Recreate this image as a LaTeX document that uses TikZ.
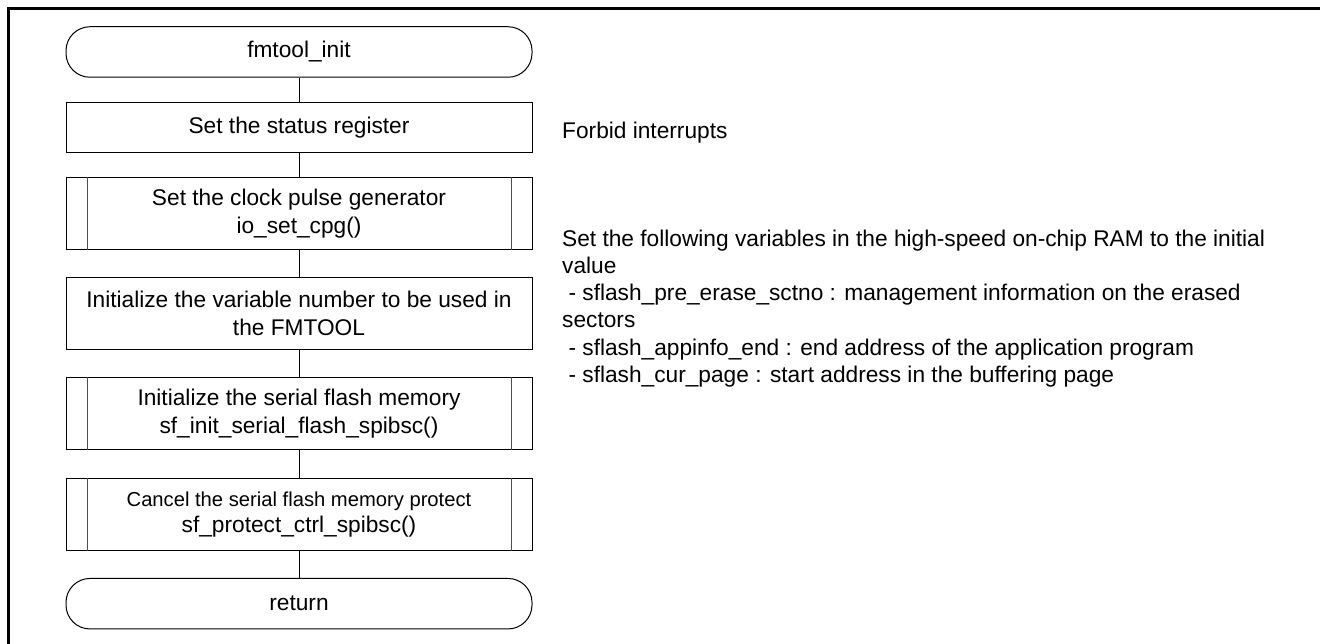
\documentclass[tikz,border=0pt]{standalone}
\usepackage{fontspec}
\setmainfont{Liberation Sans}
\newcommand{\flowfont}{\fontsize{22.7}{28}\selectfont}
\newcommand{\smallflowfont}{\fontsize{20.2}{25.7}\selectfont}
\newcommand{\notefont}{\fontsize{22.7}{27.3}\selectfont}
\begin{document}
\begin{tikzpicture}[x=1pt,y=-1pt,
  box/.style={draw, line width=1pt, minimum width=466pt, inner sep=0pt,
    align=center, font=\flowfont},
  terminal/.style={box, rounded corners=24pt, minimum height=50.5pt},
  procbox/.style={box, minimum height=50pt},
  subproc/.style={box, minimum height=72pt},
  sideline/.style={line width=1pt, black!70},
  link/.style={line width=1pt},
  note/.style={inner sep=0pt, align=left, font=\notefont},
  frameline/.style={line width=2.2pt}]
  % page extent
  \useasboundingbox (0,0) rectangle (1320,644);
  % outer frame (left and top edges)
  \draw[frameline] (8.5,650) -- (8.5,8.5) -- (1330,8.5);

  % flowchart
  \node[terminal] (start) at (299,52) {fmtool\_init};
  \node[procbox]  (b1) at (299,127.7) {Set the status register};
  \node[subproc]  (b2) at (299,213.3) {Set the clock pulse generator\\io\_set\_cpg()};
  \node[subproc]  (b3) at (299,313.3) {Initialize the variable number to be used in\\the FMTOOL};
  \node[subproc]  (b4) at (299,413.7) {Initialize the serial flash memory\\sf\_init\_serial\_flash\_spibsc()};
  \node[subproc, font=\smallflowfont] (b5) at (299,514.3) {Cancel the serial flash memory protect\\{\flowfont sf\_protect\_ctrl\_spibsc()}};
  \node[terminal] (ret) at (299,603.7) {return};

  % vertical bars of the predefined-process boxes
  \foreach \n in {b2,b4,b5} {
    \draw[sideline] ([xshift=21.5pt]\n.north west) -- ([xshift=21.5pt]\n.south west);
    \draw[sideline] ([xshift=-21.5pt]\n.north east) -- ([xshift=-21.5pt]\n.south east);
  }

  % connectors
  \draw[link] (start) -- (b1);
  \draw[link] (b1) -- (b2);
  \draw[link] (b2) -- (b3);
  \draw[link] (b3) -- (b4);
  \draw[link] (b4) -- (b5);
  \draw[link] (b5) -- (ret);

  % remarks (base anchor of a multi-line node sits on its last line)
  \node[note, anchor=base west] (n1) at (562,138.6) {Forbid interrupts};
  \node[note, anchor=base west] (n2) at (562,382.5) {Set the following variables in the high-speed on-chip RAM to the initial\\
    value\\
    \hspace*{0.28em}- sflash\_pre\_erase\_sctno : management information on the erased\\
    sectors\\
    \hspace*{0.28em}- sflash\_appinfo\_end : end address of the application program\\
    \hspace*{0.28em}- sflash\_cur\_page : start address in the buffering page};
\end{tikzpicture}
\end{document}
